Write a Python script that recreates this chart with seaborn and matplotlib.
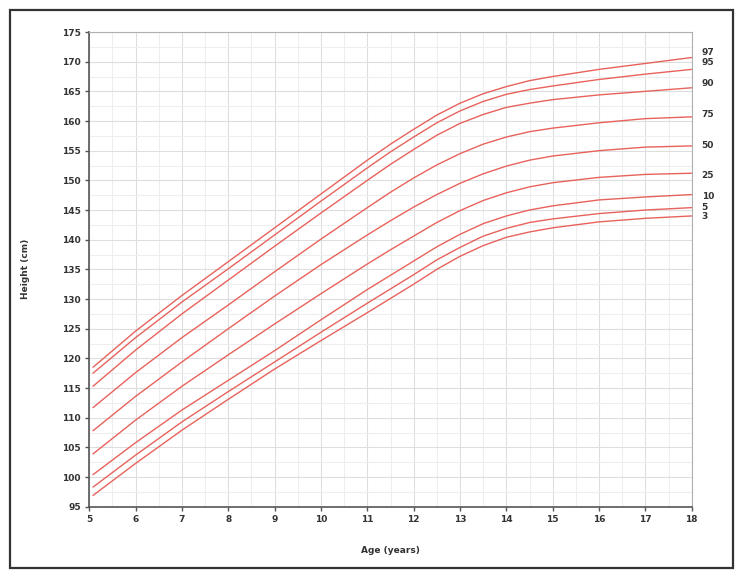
import numpy as np
import pandas as pd
import matplotlib
matplotlib.use("Agg")
import matplotlib.pyplot as plt
import seaborn as sns
from matplotlib.ticker import MultipleLocator
from matplotlib.patches import Rectangle

# ---- data ----
ages = [5.08, 6, 7, 8, 9, 10, 11, 11.5, 12, 12.5, 13, 13.5, 14, 14.5, 15, 16, 17, 18]
p3  = [96.9, 102.3, 107.9, 113.1, 118.2, 123.0, 127.7, 130.1, 132.5, 135.0, 137.2, 139.0, 140.4, 141.3, 142.0, 143.0, 143.6, 144.0]
p5  = [98.3, 103.7, 109.3, 114.4, 119.4, 124.4, 129.3, 131.7, 134.1, 136.6, 138.7, 140.6, 141.9, 142.9, 143.5, 144.4, 145.0, 145.4]
p10 = [100.4, 105.8, 111.3, 116.3, 121.3, 126.5, 131.6, 134.0, 136.4, 138.8, 140.9, 142.7, 144.0, 145.0, 145.7, 146.7, 147.2, 147.6]
p25 = [103.9, 109.6, 115.3, 120.6, 125.8, 130.9, 135.9, 138.3, 140.6, 142.9, 144.9, 146.6, 147.9, 148.9, 149.6, 150.5, 151.0, 151.2]
p50 = [107.8, 113.6, 119.4, 125.0, 130.5, 135.8, 140.8, 143.2, 145.5, 147.6, 149.5, 151.1, 152.4, 153.4, 154.1, 155.0, 155.6, 155.8]
p75 = [111.7, 117.6, 123.5, 129.0, 134.6, 140.1, 145.4, 148.0, 150.4, 152.6, 154.5, 156.1, 157.3, 158.2, 158.8, 159.7, 160.4, 160.7]
p90 = [115.3, 121.4, 127.5, 133.2, 138.9, 144.5, 150.0, 152.7, 155.2, 157.6, 159.6, 161.1, 162.3, 163.0, 163.6, 164.4, 165.0, 165.6]
p95 = [117.5, 123.5, 129.5, 135.1, 140.8, 146.5, 152.1, 154.8, 157.3, 159.7, 161.7, 163.3, 164.5, 165.3, 165.9, 167.0, 167.9, 168.7]
p97 = [118.5, 124.6, 130.6, 136.3, 142.0, 147.7, 153.4, 156.1, 158.6, 161.0, 163.0, 164.6, 165.8, 166.8, 167.5, 168.7, 169.7, 170.7]
pct_labels = ["3", "5", "10", "25", "50", "75", "90", "95", "97"]
series = [p3, p5, p10, p25, p50, p75, p90, p95, p97]
x_ticks = list(range(5, 19))
y_ticks = list(range(95, 176, 5))

df = pd.concat(
    [pd.DataFrame({"age": ages, "height": s, "pct": lab}) for lab, s in zip(pct_labels, series)],
    ignore_index=True,
)

# ---- style ----
sns.set_theme(style="white")
plt.rcParams["font.family"] = ["DejaVu Sans"]

W, H = 744, 579
fig = plt.figure(figsize=(W / 100, H / 100), dpi=100)
L, R, T, B = 89.3, 691.7, 32.0, 506.7
ax = fig.add_axes([L / W, (H - B) / H, (R - L) / W, (B - T) / H])

red = "#e8625c"
sns.lineplot(data=df, x="age", y="height", hue="pct", palette=[red] * len(pct_labels),
             legend=False, ax=ax, linewidth=1.0, estimator=None)

ax.set_xlim(5, 18)
ax.set_ylim(95, 175)
ax.set_xticks(x_ticks)
ax.set_xticklabels([str(t) for t in x_ticks], fontweight="bold")
ax.set_yticks(y_ticks)
ax.set_yticklabels([str(t) for t in y_ticks], fontweight="bold")
ax.xaxis.set_minor_locator(MultipleLocator(0.5))
ax.yaxis.set_minor_locator(MultipleLocator(2.5))
ax.grid(which="major", color="#dedede", linewidth=0.8)
ax.grid(which="minor", color="#eeeeee", linewidth=0.8)
ax.set_axisbelow(True)

for side in ["left", "bottom"]:
    ax.spines[side].set_color("#555555")
    ax.spines[side].set_linewidth(1.2)
for side in ["top", "right"]:
    ax.spines[side].set_color("#b0b0b0")
    ax.spines[side].set_linewidth(0.8)

ax.tick_params(which="major", direction="out", length=3, width=1.0, color="#555555",
               labelsize=6.5, labelcolor="#333333", pad=3, left=True, bottom=True)
ax.tick_params(which="minor", length=0)

ax.set_xlabel("Age (years)", fontsize=6.5, fontweight="bold", color="#333333")
ax.set_ylabel("Height (cm)", fontsize=6.5, fontweight="bold", color="#333333")
ax.xaxis.set_label_coords(0.5, -(546 - B) / (B - T))
ax.yaxis.set_label_coords((30 - L) / (R - L), 0.5)

# percentile labels at the right end (pixel nudges to avoid overlap)
nudges_px = {"97": 5, "95": 7, "90": 4.4, "75": 2.4, "50": 0, "25": -2.7, "10": -2.4, "5": 0, "3": -1}
for lab, s in zip(pct_labels, series):
    ax.annotate(lab, xy=(ages[-1], s[-1]), xytext=(7.2, nudges_px[lab] * 0.72),
                textcoords="offset points", annotation_clip=False,
                fontsize=6.5, fontweight="bold", color="#333333", va="center", ha="left")

# outer frame
fig.patches.append(Rectangle((10 / W, (H - 567.5) / H), (732.5 - 10) / W, (567.5 - 10) / H,
                             transform=fig.transFigure, fill=False, edgecolor="#333333",
                             linewidth=1.6))

fig.savefig("out.png", dpi=100, facecolor="white")
